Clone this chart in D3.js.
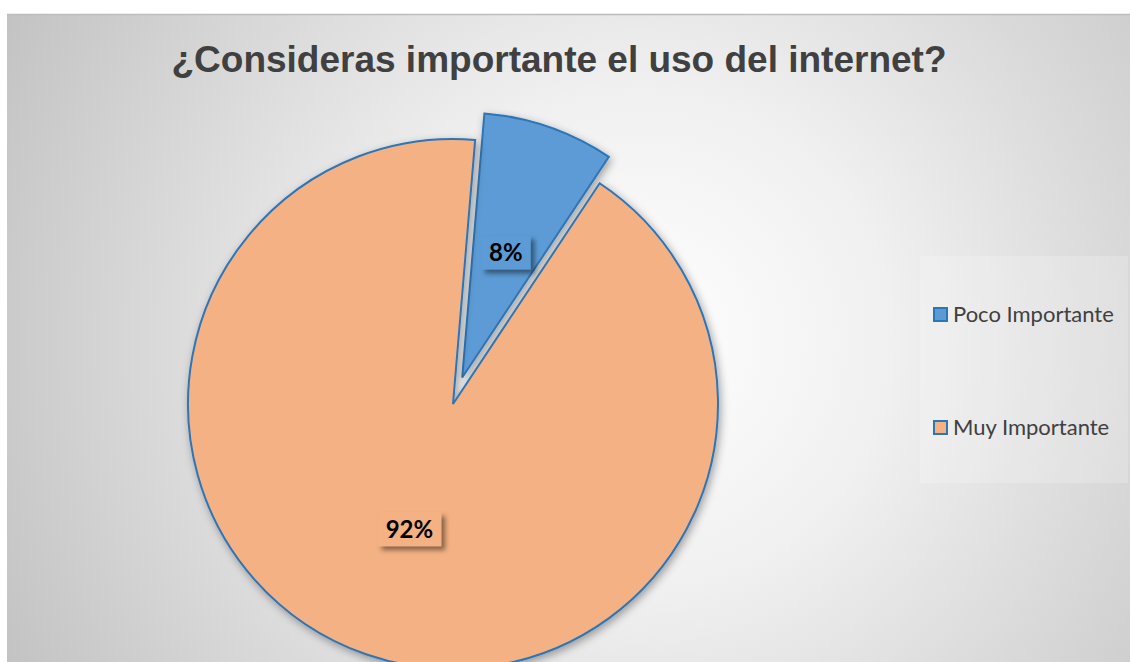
<!DOCTYPE html>
<html>
<head>
<meta charset="utf-8">
<script src="https://cdn.jsdelivr.net/npm/d3@7"></script>
<style>
  body { margin: 0; background: #fff; }
  svg { display: block; }
</style>
</head>
<body>
<svg width="1130" height="662"></svg>
<script>
// data
const categories = ["Poco Importante", "Muy Importante"];
const values = [8, 92];
const labels = ["8%", "92%"];
const fills = ["#5B9BD5", "#F4B183"];
const title = "¿Consideras importante el uso del internet?";

const svg = d3.select("svg");
const defs = svg.append("defs");

// chart background: light in the middle, grey at the edges
const bg = defs.append("radialGradient").attr("id", "bg")
  .attr("gradientUnits", "userSpaceOnUse")
  .attr("cx", 640).attr("cy", 340).attr("r", 720);
bg.append("stop").attr("offset", "0").attr("stop-color", "#ffffff");
bg.append("stop").attr("offset", "0.35").attr("stop-color", "#f0f0f0");
bg.append("stop").attr("offset", "1").attr("stop-color", "#c2c2c2");

const shadow = defs.append("filter").attr("id", "shadow")
  .attr("x", "-20%").attr("y", "-20%").attr("width", "140%").attr("height", "140%");
shadow.append("feDropShadow").attr("dx", 2).attr("dy", 3)
  .attr("stdDeviation", 4).attr("flood-color", "#000").attr("flood-opacity", 0.35);

const boxShadow = defs.append("filter").attr("id", "boxShadow")
  .attr("x", "-30%").attr("y", "-30%").attr("width", "170%").attr("height", "170%");
boxShadow.append("feDropShadow").attr("dx", 4).attr("dy", 4)
  .attr("stdDeviation", 2.5).attr("flood-color", "#000").attr("flood-opacity", 0.45);

svg.append("rect").attr("x", 7).attr("y", 14).attr("width", 1123).attr("height", 648)
  .attr("fill", "url(#bg)");
svg.append("line").attr("x1", 7).attr("x2", 1130).attr("y1", 14.5).attr("y2", 14.5)
  .attr("stroke", "#bdbdbd").attr("stroke-width", 1.5);

// title
svg.append("text").attr("x", 559).attr("y", 72)
  .attr("text-anchor", "middle")
  .style("font-family", "Liberation Sans, Arial, sans-serif")
  .style("font-weight", "bold").style("font-size", "37px")
  .attr("fill", "#404040").text(title);

// pie
const cx = 453, cy = 404, r = 265;
const startAngle = 4.8 * Math.PI / 180;
const pie = d3.pie().sort(null).startAngle(startAngle).endAngle(startAngle + 2 * Math.PI);
const arcs = pie(values);
const arc = d3.arc().innerRadius(0).outerRadius(r);
const explode = [28, 0];

const g = svg.append("g").attr("transform", `translate(${cx},${cy})`);

const slices = g.selectAll("g.slice").data(arcs).enter().append("g")
  .attr("class", "slice")
  .attr("transform", (d, i) => {
    const a = (d.startAngle + d.endAngle) / 2;
    return `translate(${Math.sin(a) * explode[i]},${-Math.cos(a) * explode[i]})`;
  });

slices.append("path").attr("d", arc)
  .attr("fill", (d, i) => fills[i])
  .attr("stroke", "#2E75B6").attr("stroke-width", 2)
  .attr("stroke-linejoin", "miter")
  .attr("filter", "url(#shadow)");

// data labels in shadowed boxes
slices.each(function(d, i) {
  const c = arc.centroid(d);
  const lg = d3.select(this).append("g").attr("transform", `translate(${c[0]},${c[1]})`);
  const rect = lg.append("rect").attr("fill", fills[i]).attr("filter", "url(#boxShadow)");
  const t = lg.append("text").attr("text-anchor", "middle").attr("dy", "0.36em")
    .style("font-family", "Lato, 'Open Sans', sans-serif")
    .style("font-weight", "bold").style("font-size", "24px")
    .attr("fill", "#000").text(labels[i]);
  const bb = t.node().getBBox();
  rect.attr("x", bb.x - 8).attr("y", -17).attr("width", bb.width + 16).attr("height", 34);
});

// legend
const legend = svg.append("g");
legend.append("rect").attr("x", 920).attr("y", 256).attr("width", 208).attr("height", 227)
  .attr("fill", "#ffffff").attr("opacity", 0.2);
const items = legend.selectAll("g.item").data(categories).enter().append("g")
  .attr("transform", (d, i) => `translate(933,${307 + i * 113})`);
items.append("rect").attr("x", 1).attr("y", 1).attr("width", 13).attr("height", 13)
  .attr("fill", (d, i) => fills[i]).attr("stroke", "#2E75B6").attr("stroke-width", 2);
items.append("text").attr("x", 20).attr("y", 14.5)
  .style("font-family", "Lato, 'Open Sans', sans-serif").style("font-size", "22px")
  .attr("fill", "#404040").text(d => d);
</script>
</body>
</html>
